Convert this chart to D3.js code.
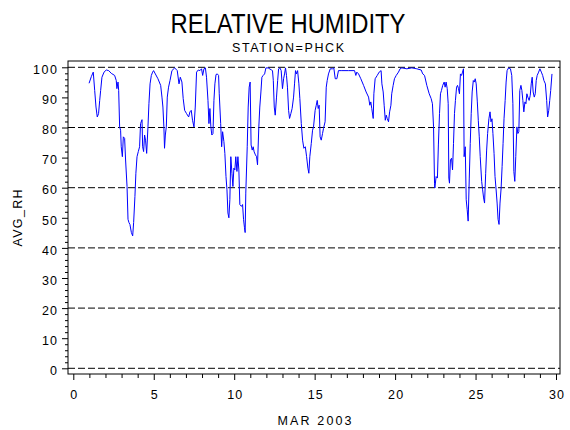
<!DOCTYPE html>
<html>
<head>
<meta charset="utf-8">
<script src="https://cdn.jsdelivr.net/npm/d3@7"></script>
<style>
  body { margin: 0; background: #fff; }
  svg { display: block; font-family: "Liberation Sans", Arial, sans-serif; }
</style>
</head>
<body>
<svg id="chart" width="570" height="430"></svg>
<script>
// day of month (fractional) and average relative humidity
const day = [
  0.98, 1.12, 1.24, 1.33, 1.41, 1.49, 1.57, 1.64, 1.70, 1.78, 1.91, 2.05, 2.20, 2.36, 2.57, 2.67,
  2.71, 2.78, 2.82, 2.88, 2.94, 2.98, 3.05, 3.11, 3.19, 3.25, 3.34, 3.40, 3.46, 3.52, 3.61, 3.69,
  3.75, 3.83, 3.89, 3.96, 4.04, 4.12, 4.18, 4.27, 4.31, 4.37, 4.43, 4.49, 4.56, 4.64, 4.70, 4.77,
  4.85, 4.93, 4.99, 5.10, 5.26, 5.43, 5.51, 5.57, 5.63, 5.67, 5.72, 5.78, 5.84, 5.92, 6.01, 6.13,
  6.30, 6.46, 6.57, 6.65, 6.75, 6.83, 6.92, 7.04, 7.17, 7.25, 7.33, 7.41,
  7.50, 7.58, 7.66, 7.77, 7.87, 7.97, 8.04, 8.12, 8.21, 8.28, 8.37, 8.43, 8.49, 8.55, 8.61, 8.68,
  8.74, 8.80, 8.87, 8.95, 9.03, 9.07, 9.16, 9.22, 9.28, 9.36, 9.42, 9.49, 9.55, 9.61, 9.67, 9.73,
  9.79, 9.86, 9.92, 9.98, 10.04, 10.10, 10.17, 10.23, 10.29, 10.35, 10.45, 10.52, 10.58, 10.64,
  10.68, 10.72, 10.81, 10.87, 10.93, 10.99, 11.05, 11.12, 11.18, 11.24, 11.32, 11.39, 11.45, 11.53,
  11.59, 11.66, 11.72, 11.80, 11.89, 11.97, 12.11, 12.32, 12.38, 12.43, 12.49, 12.55, 12.63, 12.70,
  12.76, 12.84, 12.92, 13.00, 13.07, 13.13, 13.19, 13.25, 13.31, 13.38, 13.44, 13.52, 13.60, 13.69,
  13.75, 13.81, 13.87, 13.94, 14.02, 14.08, 14.17, 14.25, 14.33, 14.42, 14.50, 14.58, 14.64, 14.70,
  14.79, 14.87, 14.93,
  15.03, 15.10, 15.16, 15.22, 15.28, 15.34, 15.41, 15.49, 15.55, 15.65, 15.72, 15.78, 15.86, 15.97,
  16.11, 16.19, 16.28, 16.38, 16.48, 16.69, 17.10, 17.48, 17.56, 17.62, 17.73, 17.87, 18.04, 18.20,
  18.35, 18.43, 18.49, 18.55, 18.64, 18.68, 18.76, 18.89, 19.01, 19.13, 19.18, 19.26, 19.32, 19.39,
  19.45, 19.51, 19.59, 19.66, 19.74, 19.79, 19.88, 19.96, 20.07, 20.21, 20.31, 20.42, 20.73, 21.04,
  21.35, 21.62, 21.72, 21.83, 21.97, 22.12, 22.24, 22.32, 22.39, 22.45,
  22.47, 22.55, 22.63, 22.69, 22.76, 22.82, 22.88, 22.96, 23.05, 23.11, 23.17, 23.24, 23.30, 23.34,
  23.38, 23.44, 23.51, 23.57, 23.63, 23.69, 23.75, 23.82, 23.88, 23.94, 24.00, 24.06, 24.13, 24.19,
  24.25, 24.29, 24.36, 24.42, 24.48, 24.54, 24.61, 24.67, 24.73, 24.79, 24.86, 24.92, 24.98, 25.04,
  25.11, 25.17, 25.23, 25.29, 25.38, 25.44, 25.50, 25.56, 25.63, 25.69, 25.75, 25.83, 25.90, 25.96,
  26.02, 26.08, 26.15, 26.21, 26.27, 26.34, 26.40, 26.46, 26.52, 26.59, 26.65, 26.71, 26.77, 26.84,
  26.90, 26.96, 27.05, 27.17, 27.25, 27.32, 27.38, 27.44, 27.50, 27.57, 27.63, 27.69, 27.75, 27.82,
  27.88, 27.94, 28.00, 28.07, 28.13, 28.19, 28.25, 28.33, 28.40, 28.46, 28.52, 28.58, 28.65, 28.71,
  28.77, 28.83, 28.92, 29.00, 29.09, 29.17, 29.25, 29.34, 29.42, 29.48, 29.55, 29.61, 29.67, 29.75
];
const avgRh = [
  94.7, 96.9, 98.4, 92.3, 86.8, 83.5, 84.6, 89.0, 92.3, 96.7, 98.4, 99.1, 98.9, 98.0, 97.3, 95.6,
  92.9, 95.1, 92.3, 80.2, 79.1, 73.6, 70.3, 76.9, 76.4, 69.2, 60.4, 49.5, 48.4, 47.8, 45.1, 44.0,
  48.4, 57.1, 64.8, 70.3, 72.0, 73.6, 81.3, 82.6, 73.6, 72.0, 77.5, 75.8, 71.4, 80.2, 87.9, 94.5,
  97.3, 98.4, 98.9, 97.8, 96.2, 94.0, 90.1, 86.8, 80.2, 73.1, 77.5, 80.2, 90.1, 93.4, 95.6, 98.9,
  99.8, 98.9, 94.5, 96.7, 95.1, 89.6, 85.7, 84.6, 83.5, 85.2, 85.7, 82.4,
  80.2, 86.8, 98.4, 99.1, 98.9, 99.5, 97.3, 99.5, 99.8, 96.7, 89.0, 81.3, 86.3, 80.2, 77.5, 78.0,
  89.0, 94.5, 97.6, 97.8, 97.3, 91.2, 81.3, 73.6, 78.6, 75.3, 71.4, 63.7, 59.3, 51.6, 50.0, 56.0,
  70.3, 64.8, 60.4, 66.5, 65.9, 70.3, 65.4, 70.3, 65.9, 54.4, 53.8, 54.4, 49.5, 46.7,
  45.1, 58.2, 73.6, 86.8, 93.4, 95.1, 74.2, 72.5, 73.6, 71.9, 70.9, 70.3, 67.6, 80.2,
  86.8, 91.8, 96.7, 97.3, 97.8, 99.8, 99.8, 99.1, 98.9, 95.6, 86.8, 84.1, 90.1, 95.6,
  99.5, 99.8, 98.9, 92.9, 96.2, 97.8, 99.8, 97.3, 93.4, 85.7, 83.0, 84.6, 86.3, 90.1,
  94.5, 98.9, 97.8, 98.9, 94.5, 89.6, 81.3, 75.8, 73.1, 73.6, 70.3, 66.5, 64.8, 70.3,
  74.7, 79.1, 80.2,
  85.7, 87.4, 89.0, 86.3, 87.4, 76.9, 75.8, 78.0, 79.7, 81.9, 93.4, 95.6, 97.8, 99.5,
  99.5, 99.8, 96.2, 96.2, 98.9, 98.9, 98.9, 98.9, 97.3, 98.4, 97.8, 96.2, 94.0, 91.8,
  90.1, 87.4, 88.5, 86.3, 83.0, 91.2, 96.2, 97.3, 98.4, 98.9, 94.5, 91.8, 87.4, 82.4,
  84.1, 83.0, 81.9, 85.2, 87.4, 91.2, 94.0, 96.2, 97.3, 98.4, 99.5, 99.8, 99.5, 99.8,
  99.5, 99.1, 97.8, 97.3, 94.0, 91.2, 89.6, 87.9, 80.2, 61.5,
  59.9, 63.7, 63.2, 74.2, 84.6, 91.2, 92.3, 94.0, 95.1, 93.4, 95.1, 92.9, 87.9, 63.2,
  61.5, 69.2, 69.8, 65.9, 74.7, 84.6, 89.0, 93.4, 94.0, 92.9, 91.2, 97.8, 97.3, 98.4,
  99.5, 70.3, 73.6, 56.0, 52.7, 48.9, 63.2, 74.7, 84.6, 91.8, 95.6, 95.1, 96.2, 94.5,
  88.5, 82.4, 76.9, 70.3, 62.1, 59.3, 56.6, 54.9, 64.8, 72.5, 78.0, 82.9, 85.2, 81.9,
  82.9, 78.0, 71.4, 63.7, 59.9, 54.9, 49.5, 47.8, 54.9, 59.9, 67.0, 74.7, 82.9, 89.0,
  95.1, 98.9, 99.8, 99.5, 97.3, 87.9, 65.4, 62.1, 70.3, 80.2, 78.0, 78.6, 92.3, 94.0,
  92.3, 89.0, 85.2, 88.5, 87.9, 91.2, 90.1, 89.0, 90.7, 94.5, 96.7, 91.8, 90.1, 91.2,
  95.6, 97.3, 98.4, 99.5, 98.4, 97.3, 95.6, 94.5, 89.0, 83.5, 85.7, 89.0, 92.3, 97.8
];
const xTicks = [0, 5, 10, 15, 20, 25, 30];
const yTicks = [0, 10, 20, 30, 40, 50, 60, 70, 80, 90, 100];
const yGrid = [0, 20, 40, 60, 80, 100];

const svg = d3.select('#chart');
const frame = { left: 68, right: 560, top: 61, bottom: 374 };

const x = d3.scaleLinear().domain([0, 30]).range([73.3, 556]);
const y = d3.scaleLinear().domain([0, 100]).range([368.3, 67.3]);

// spaced-out labels like the SAS hardware font
function spaced(sel, per) {
  sel.attr('textLength', function () { return this.textContent.length * per - 3; })
    .attr('lengthAdjust', 'spacing');
}

// titles
svg.append('text').attr('x', 288).attr('y', 33)
  .attr('text-anchor', 'middle').attr('font-size', 28)
  .attr('textLength', 235).attr('lengthAdjust', 'spacingAndGlyphs')
  .text('RELATIVE HUMIDITY');
svg.append('text').attr('x', 288).attr('y', 52)
  .attr('text-anchor', 'middle').attr('font-size', 12.5)
  .attr('textLength', 112).attr('lengthAdjust', 'spacing')
  .text('STATION=PHCK');

// dashed reference lines
svg.append('g').selectAll('line').data(yGrid).join('line')
  .attr('x1', frame.left).attr('x2', frame.right)
  .attr('y1', d => y(d)).attr('y2', d => y(d))
  .attr('stroke', '#000').attr('stroke-width', 1)
  .attr('stroke-dasharray', '7,3');

// frame
svg.append('rect')
  .attr('x', frame.left).attr('y', frame.top)
  .attr('width', frame.right - frame.left).attr('height', frame.bottom - frame.top)
  .attr('fill', 'none').attr('stroke', '#000').attr('stroke-width', 1);

// y axis
const yAxis = svg.append('g').attr('transform', `translate(${frame.left},0)`)
  .call(d3.axisLeft(y).tickValues(yTicks).tickSize(6).tickPadding(5));
yAxis.append('g')
  .call(d3.axisLeft(y).tickValues(d3.range(0, 101, 2).filter(v => v % 10)).tickSize(3).tickFormat(''));
yAxis.selectAll('.domain').remove();
yAxis.selectAll('text').attr('font-size', 12.5).attr('font-family', null)
  .attr('dy', '0.5em').call(spaced, 9);
yAxis.selectAll('line').attr('stroke', '#000');

// x axis
const xAxis = svg.append('g').attr('transform', `translate(0,${frame.bottom})`)
  .call(d3.axisBottom(x).tickValues(xTicks).tickSize(6).tickPadding(10));
xAxis.append('g')
  .call(d3.axisBottom(x).tickValues(d3.range(0, 31).filter(v => v % 5)).tickSize(4).tickFormat(''));
xAxis.selectAll('.domain').remove();
xAxis.selectAll('text').attr('font-size', 12.5).attr('font-family', null).call(spaced, 9);
xAxis.selectAll('line').attr('stroke', '#000');

// axis labels
svg.append('text').attr('x', 314.5).attr('y', 424.5)
  .attr('text-anchor', 'middle').attr('font-size', 12.5)
  .attr('textLength', 74).attr('lengthAdjust', 'spacing')
  .text('MAR 2003');
svg.append('text').attr('transform', 'translate(22,218) rotate(-90)')
  .attr('text-anchor', 'middle').attr('font-size', 12.5)
  .attr('textLength', 57).attr('lengthAdjust', 'spacing')
  .text('AVG_RH');

// humidity trace
const line = d3.line().x((d, i) => x(day[i])).y(d => y(d));
svg.append('path').datum(avgRh)
  .attr('d', line)
  .attr('fill', 'none').attr('stroke', '#0000ff').attr('stroke-width', 1);
</script>
</body>
</html>
